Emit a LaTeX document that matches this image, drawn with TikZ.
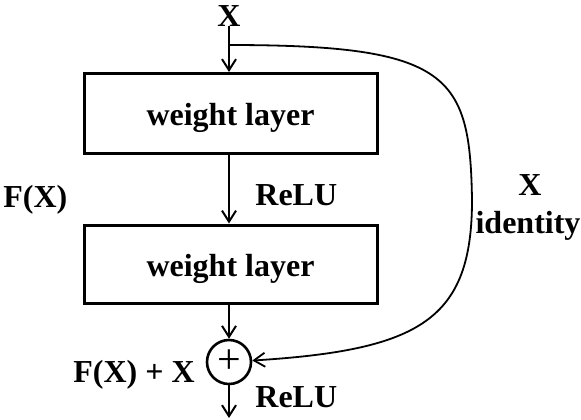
\documentclass[tikz,border=0pt]{standalone}
\usepackage{fontspec}
\setmainfont{Liberation Serif}
\usetikzlibrary{arrows.meta}

\begin{document}
\begin{tikzpicture}[x=0.5pt, y=-0.5pt,
    every node/.style={font=\fontsize{16}{19}\selectfont\bfseries},
    layer/.style={draw, line width=1.5pt, minimum width=146.5pt, minimum height=40pt, inner sep=0pt},
    sumnode/.style={draw, circle, line width=1.3pt, minimum size=22pt, inner sep=0pt,
        font=\fontsize{21}{21}\selectfont\mdseries},
    label/.style={anchor=base, inner sep=0pt},
    flow/.style={line width=1pt, -{Straight Barb[length=5.5pt,width=7pt]}}]
\useasboundingbox (0,0) rectangle (581,419);

% Input
\node[label] (xin) at (229,26) {X};
\coordinate (split) at (229,45);

% Weight layers
\node[layer] (w1) at (230.5,113.5) {};
\node[label] (w1txt) at (230.5,125) {weight layer};
\node[layer, minimum height=39pt] (w2) at (230.5,264) {};
\node[label] (w2txt) at (230.5,276) {weight layer};

% Addition
\node[sumnode] (sum) at (229,362) {+};
\coordinate (out) at (229,418);

% Labels
\node[label, anchor=base west] (fx) at (3,207) {F(X)};
\node[label, anchor=base west] (relu1) at (255,205) {ReLU};
\node[label] (xid) at (530,195) {X};
\node[label] (ident) at (528,233) {identity};
\node[label, anchor=base west] (fxx) at (73,382) {F(X) + X};
\node[label, anchor=base west] (relu2) at (255,407) {ReLU};

% Main path
\draw[flow] (xin) -- (w1.north -| xin);
\draw[flow] (w1.south -| xin) -- (w2.north -| xin);
\draw[flow] (w2.south -| xin) -- (sum);
\draw[flow] (sum) -- (out);

% Shortcut
\draw[flow, line width=0.9pt] (split) .. controls (450,45) and (470,75) .. (472,200)
    .. controls (472,320) and (420,350) .. (sum);
\end{tikzpicture}
\end{document}
